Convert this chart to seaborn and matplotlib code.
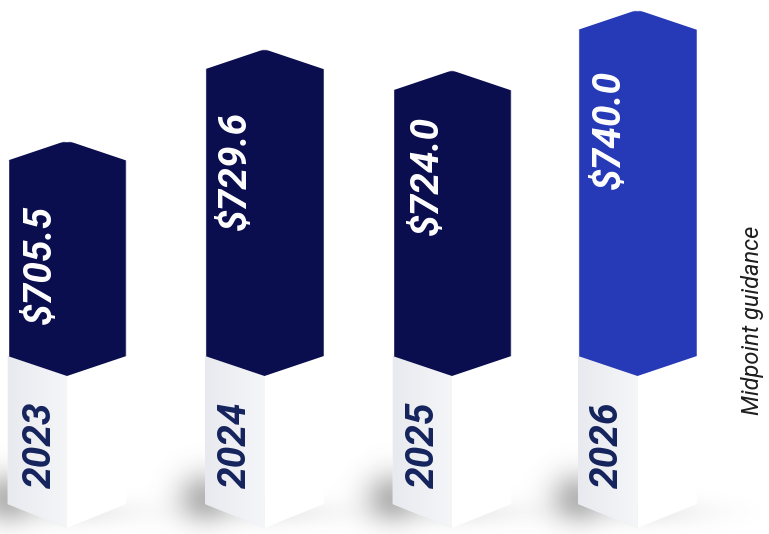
import numpy as np
import pandas as pd
import matplotlib
matplotlib.use("Agg")
import matplotlib.pyplot as plt
from matplotlib.patches import Polygon
import seaborn as sns

# Guidance midpoints by fiscal year
years = ["2023", "2024", "2025", "2026"]
midpoints = [705.5, 729.6, 724.0, 740.0]
value_labels = ["$705.5", "$729.6", "$724.0", "$740.0"]
side_label = "Midpoint guidance"

# Layout and styling
column_centres = [67, 264.5, 452, 637.5]
column_colours = ["#0A0D4E", "#0A0D4E", "#0A0D4E", "#2639B6"]
label_drops = [124, 121, 105, 120]
label_shift = [-27, -29, -25, -28]
year_shift = [-27, -29, -29, -30]
WIDTH, HEIGHT = 769, 534
PX_PER_DOLLAR = 3.79
REF_VALUE, REF_PX = 724.775, 67.5
CHEVRON = 20
BAND_SIDE_PX, PLINTH_SIDE_PX, PLINTH_TIP_PX = 356, 504, 528


def value_at(px):
    """Value on the y scale sitting at a given pixel row."""
    return REF_VALUE + (REF_PX - px) / PX_PER_DOLLAR


sns.set_theme(style="white")
plt.rcParams["font.family"] = ["Roboto", "DejaVu Sans"]

fig = plt.figure(figsize=(WIDTH / 100, HEIGHT / 100), dpi=100, facecolor="white")
ax = fig.add_axes([0, 0, 1, 1])

frame = pd.DataFrame({"centre": column_centres, "midpoint": midpoints, "year": years})
sns.barplot(
    data=frame, x="centre", y="midpoint", hue="year",
    palette=dict(zip(years, column_colours)), native_scale=True,
    width=118.5 / 185, dodge=False, legend=False, saturation=1, ax=ax, zorder=2,
)

ylim = (value_at(HEIGHT), value_at(0))
chevron_units = CHEVRON / PX_PER_DOLLAR
band_side = value_at(BAND_SIDE_PX)
band_tip = band_side - chevron_units
plinth_side = value_at(PLINTH_SIDE_PX)
plinth_tip = value_at(PLINTH_TIP_PX)

# Soft floor shadow around each column foot
gx, gy = np.meshgrid(np.arange(WIDTH) + 0.5, np.arange(HEIGHT) + 0.5)
shadow = np.zeros((HEIGHT, WIDTH))
for cx in column_centres:
    shadow += 0.42 * np.exp(-((gx - (cx - 60)) / 27) ** 2 - ((gy - 497) / 25) ** 2)
    shadow += 0.12 * np.exp(-((gx - cx) / 68) ** 2 - ((gy - 512) / 14) ** 2)
shadow_rgba = np.zeros((HEIGHT, WIDTH, 4))
shadow_rgba[..., :3] = 0.35
shadow_rgba[..., 3] = np.clip(shadow, 0, 0.6)
ax.imshow(shadow_rgba, extent=(0, WIDTH, ylim[0], ylim[1]), aspect="auto",
          zorder=0.5, interpolation="bilinear")

face_cmap = matplotlib.colors.LinearSegmentedColormap.from_list(
    "face", ["#E9EAEF", "#F5F6F8"])

for i, (bar, value, label, year) in enumerate(zip(ax.patches, midpoints,
                                                  value_labels, years)):
    x0, x1 = bar.get_x(), bar.get_x() + bar.get_width()
    xc = (x0 + x1) / 2

    # Clip the plain bar into a hexagonal prism face ending at its value
    outline = Polygon(
        [(x0, band_side), (x0, value - chevron_units), (xc, value),
         (x1, value - chevron_units), (x1, band_side), (xc, band_tip)],
        transform=ax.transData,
    )
    bar.set_clip_path(outline)

    # White plinth beneath: shaded left face and bright right face
    ax.add_patch(Polygon(
        [(xc, band_tip), (x1, band_side), (x1, plinth_side), (xc, plinth_tip)],
        facecolor="#FFFFFF", edgecolor="none", zorder=1,
    ))
    left_poly = Polygon(
        [(x0, band_side), (xc, band_tip), (xc, plinth_tip), (x0, plinth_side)],
        facecolor="#EEEFF3", edgecolor="none", zorder=1,
    )
    ax.add_patch(left_poly)
    face_image = ax.imshow(
        np.linspace(0, 1, 64)[None, :],
        extent=(x0, xc, plinth_tip, band_side + chevron_units), aspect="auto",
        cmap=face_cmap, zorder=1.1, interpolation="bilinear",
    )
    face_image.set_clip_path(left_poly)

    ax.annotate(label, xy=(xc, value),
                xytext=(label_shift[i] * 0.72, -label_drops[i] * 0.72),
                textcoords="offset points", rotation=90, ha="center", va="center",
                fontsize=28, fontweight="bold", fontstyle="italic", color="white",
                zorder=3)
    ax.text(xc + year_shift[i], value_at(445), year, rotation=90, ha="center", va="center",
            fontsize=28, fontweight="bold", fontstyle="italic", color="#14235C",
            zorder=3)

ax.text(752, value_at(320), side_label, rotation=90, ha="center", va="center",
        fontsize=17, fontstyle="italic", color="#1E1E1E", zorder=3)

ax.set_xlim(0, WIDTH)
ax.set_ylim(*ylim)
ax.axis("off")
fig.savefig("out.png", dpi=100, facecolor="white")
